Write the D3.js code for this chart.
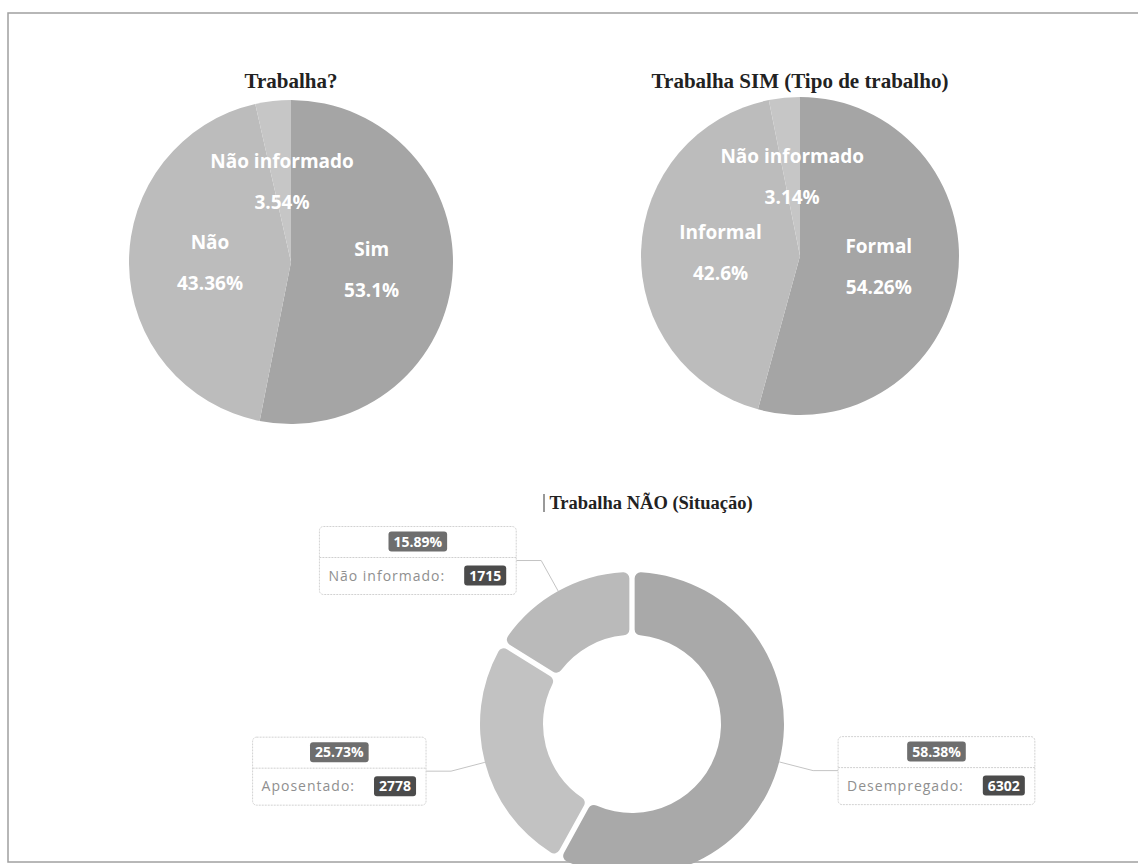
<!DOCTYPE html>
<html>
<head>
<meta charset="utf-8">
<script src="https://cdn.jsdelivr.net/npm/d3@7"></script>
<style>
  body { margin: 0; background: #fff; }
  .title { font-family: "Liberation Serif", "DejaVu Serif", serif; font-weight: bold; fill: #222; }
  .slice-label { font-family: "Open Sans", sans-serif; font-weight: 700; font-size: 19px; fill: #fff; }
  .box-text { font-family: "Open Sans", sans-serif; font-size: 14px; fill: #8f8f8f; letter-spacing: 1px; }
  .badge-text { font-family: "Open Sans", sans-serif; font-weight: 700; font-size: 14px; fill: #fff; }
</style>
</head>
<body>
<svg id="chart" width="1138" height="864"></svg>
<script>
// data
const trabalhaLabels = ['Sim', 'Não', 'Não informado'];
const trabalhaValues = [53.1, 43.36, 3.54];

const tipoLabels = ['Formal', 'Informal', 'Não informado'];
const tipoValues = [54.26, 42.6, 3.14];

const situacaoLabels = ['Desempregado', 'Aposentado', 'Não informado'];
const situacaoValues = [6302, 2778, 1715];

const pieGrays = ['#a5a5a5', '#bcbcbc', '#c6c6c6'];
const donutGrays = ['#a9a9a9', '#c2c2c2', '#bababa'];

const svg = d3.select('#chart');

// outer frame of the scanned page
svg.append('rect')
    .attr('x', 8).attr('y', 13)
    .attr('width', 1150).attr('height', 849)
    .attr('fill', 'none')
    .attr('stroke', '#a0a0a0')
    .attr('stroke-width', 1.5);

const pct = (v, total) => +(v / total * 100).toFixed(2);

// plain pie with labels inside
const drawPie = (props) => {
    const { cx, cy, r, labels, values, title, titleY } = props;
    const total = d3.sum(values);
    const data = labels.map((d, i) => ({ name: d, value: values[i] }));

    const pie = d3.pie().sort(null).value(d => d.value);
    const arc = d3.arc().innerRadius(0).outerRadius(r);
    const colour = d3.scaleOrdinal().domain(labels).range(pieGrays);

    const g = svg.append('g').attr('transform', `translate(${cx},${cy})`);

    g.selectAll('path').data(pie(data))
      .enter().append('path')
        .attr('d', arc)
        .attr('fill', d => colour(d.data.name));

    const lbl = g.selectAll('.slice-label').data(pie(data))
      .enter().append('text')
        .attr('class', 'slice-label')
        .attr('text-anchor', 'middle')
        .attr('transform', d => `translate(${arc.centroid(d)})`);
    lbl.append('tspan').attr('x', 0).attr('y', -14).text(d => d.data.name);
    lbl.append('tspan').attr('x', 0).attr('y', 27).text(d => pct(d.data.value, total) + '%');

    svg.append('text')
        .attr('class', 'title')
        .attr('text-anchor', 'middle')
        .attr('x', cx).attr('y', titleY)
        .style('font-size', '21px')
        .text(title);
};

drawPie({ cx: 291, cy: 262, r: 162, labels: trabalhaLabels, values: trabalhaValues,
          title: 'Trabalha?', titleY: 88 });
drawPie({ cx: 800, cy: 256, r: 159, labels: tipoLabels, values: tipoValues,
          title: 'Trabalha SIM (Tipo de trabalho)', titleY: 88 });

// donut with boxed labels
const drawDonut = (props) => {
    const { cx, cy, rInner, rOuter, labels, values } = props;
    const total = d3.sum(values);
    const data = labels.map((d, i) => ({ name: d, value: values[i] }));

    const pie = d3.pie().sort(null).value(d => d.value).padAngle(0.03);
    const arc = d3.arc().innerRadius(rInner).outerRadius(rOuter).cornerRadius(6);
    const colour = d3.scaleOrdinal().domain(labels).range(donutGrays);

    const g = svg.append('g').attr('transform', `translate(${cx},${cy})`);

    g.selectAll('path').data(pie(data))
      .enter().append('path')
        .attr('d', arc)
        .attr('fill', d => colour(d.data.name));

    const len1 = 35, len2 = 25;
    pie(data).forEach(d => {
        const a = (d.startAngle + d.endAngle) / 2;
        const sx = Math.sin(a), sy = -Math.cos(a);
        const p0 = [rOuter * sx, rOuter * sy];
        const p1 = [(rOuter + len1) * sx, (rOuter + len1) * sy];
        const right = sx > 0;
        const p2 = [p1[0] + (right ? len2 : -len2), p1[1]];

        g.append('polyline')
            .attr('points', [p0, p1, p2].map(p => p.join(',')).join(' '))
            .attr('fill', 'none')
            .attr('stroke', '#c4c4c4')
            .attr('stroke-width', 1);

        const box = g.append('g');
        const rect = box.append('rect');
        const divider = box.append('line');

        // bottom row: name + value badge
        const nameT = box.append('text').attr('class', 'box-text').text(d.data.name + ':');
        const valBg = box.append('rect').attr('rx', 3).attr('fill', '#4b4b4b');
        const valT = box.append('text').attr('class', 'badge-text').text(d.data.value);
        // top row: percent badge
        const pBg = box.append('rect').attr('rx', 3).attr('fill', '#6e6e6e');
        const pT = box.append('text').attr('class', 'badge-text').attr('text-anchor', 'middle')
            .text(pct(d.data.value, total).toFixed(2) + '%');

        const padL = 9, gap = 19, padR = 10, bpad = 5;
        const nameW = nameT.node().getComputedTextLength();
        const valW = valT.node().getComputedTextLength();
        const pW = pT.node().getComputedTextLength();
        const w = padL + nameW + gap + valW + 2 * bpad + padR;
        const h = 68;
        const x0 = right ? p2[0] : p2[0] - w;
        const y0 = p2[1] - h / 2;

        rect.attr('x', x0).attr('y', y0).attr('width', w).attr('height', h)
            .attr('rx', 4).attr('fill', '#fff')
            .attr('stroke', '#d2d2d2').attr('stroke-dasharray', '2,1');
        divider.attr('x1', x0).attr('x2', x0 + w)
            .attr('y1', y0 + 31).attr('y2', y0 + 31)
            .attr('stroke', '#cfcfcf').attr('stroke-dasharray', '2,1');

        const rowTop = y0 + 15, rowBot = y0 + 49;
        pT.attr('x', x0 + w / 2).attr('y', rowTop + 5);
        pBg.attr('x', x0 + w / 2 - pW / 2 - bpad).attr('y', rowTop - 10)
           .attr('width', pW + 2 * bpad).attr('height', 20);

        nameT.attr('x', x0 + padL).attr('y', rowBot + 5);
        const vx = x0 + padL + nameW + gap;
        valBg.attr('x', vx).attr('y', rowBot - 10).attr('width', valW + 2 * bpad).attr('height', 20);
        valT.attr('x', vx + bpad).attr('y', rowBot + 5);
    });

    // small cursor bar in front of the title, as in the scan
    svg.append('line')
        .attr('x1', 544).attr('x2', 544).attr('y1', 494).attr('y2', 512)
        .attr('stroke', '#555').attr('stroke-width', 1.2);
    svg.append('text')
        .attr('class', 'title')
        .attr('text-anchor', 'middle')
        .attr('x', 651).attr('y', 509)
        .style('font-size', '18.5px')
        .text('Trabalha NÃO (Situação)');
};

drawDonut({ cx: 632, cy: 724, rInner: 89, rOuter: 152,
            labels: situacaoLabels, values: situacaoValues });
</script>
</body>
</html>
